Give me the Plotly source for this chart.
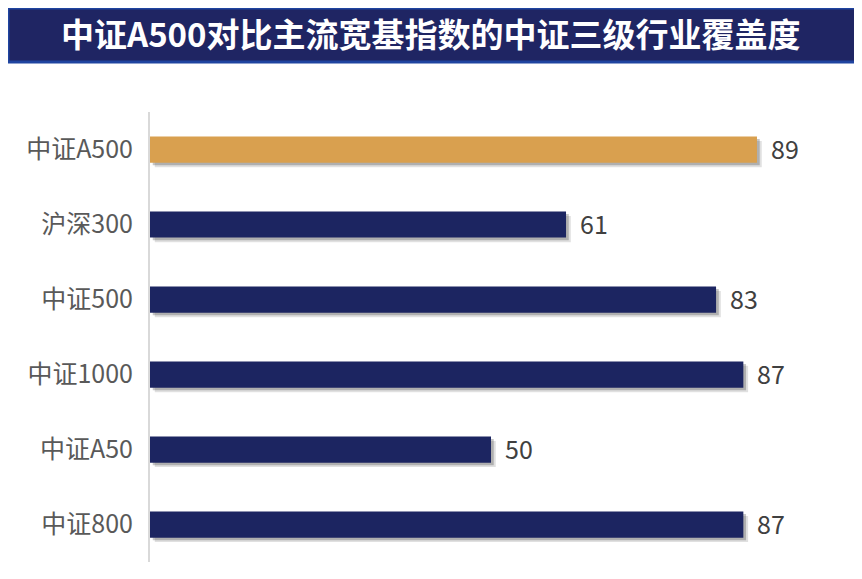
import plotly.graph_objects as go

# 数据
categories = ["中证A500", "沪深300", "中证500", "中证1000", "中证A50", "中证800"]
coverage = [89, 61, 83, 87, 50, 87]
bar_colors = ["#D9A04F", "#1C2561", "#1C2561", "#1C2561", "#1C2561", "#1C2561"]
title_text = "中证A500对比主流宽基指数的中证三级行业覆盖度"

FONT = "Noto Sans CJK SC"
BAR_W = 0.35

fig = go.Figure()

# 阴影（两层，模拟模糊）
for dx, dy, alpha in [(0.7, 0.06, 0.12), (0.4, 0.035, 0.22)]:
    fig.add_trace(go.Bar(
        y=categories, x=coverage, base=dx, orientation="h",
        width=BAR_W, offset=-BAR_W / 2 + dy,
        marker=dict(color=f"rgba(0,0,0,{alpha})", line=dict(width=0)),
        hoverinfo="skip", showlegend=False,
    ))

# 主柱
fig.add_trace(go.Bar(
    y=categories, x=coverage, orientation="h",
    width=BAR_W,
    marker=dict(color=bar_colors, line=dict(width=0)),
    showlegend=False,
))

# 数值标签
for cat, val in zip(categories, coverage):
    fig.add_annotation(
        x=val, y=cat, text=str(val), showarrow=False,
        xanchor="left", xshift=12, yshift=2,
        font=dict(family=FONT, size=25, color="#404040"),
    )

# 标题横幅 (页面 body 有 8px 边距，整体上移左移)
fig.add_shape(
    type="rect", xref="paper", yref="paper",
    x0=-0.2082, x1=1.0367, y0=1.1111, y1=1.2311,
    fillcolor="#1F2563", line=dict(color="#1F44A0", width=3),
    layer="below",
)
fig.add_annotation(
    xref="paper", yref="paper", x=0.412, y=1.1756,
    text=f"<b>{title_text}</b>", showarrow=False,
    xanchor="center", yanchor="middle",
    font=dict(family=FONT, size=33, color="white"),
)

fig.update_layout(
    width=862, height=579,
    margin=dict(l=142, r=38, t=104, b=25, autoexpand=False),
    paper_bgcolor="white", plot_bgcolor="white",
    barmode="overlay",
    font=dict(family=FONT),
)
fig.update_xaxes(range=[0, 100], visible=False, fixedrange=True)
fig.update_yaxes(
    autorange="reversed", showline=True, linecolor="#D9D9D9", linewidth=2,
    showgrid=False, ticks="", ticklabelstandoff=10,
    tickfont=dict(family=FONT, size=25, color="#595959"),
)

fig.write_html("out.html")
